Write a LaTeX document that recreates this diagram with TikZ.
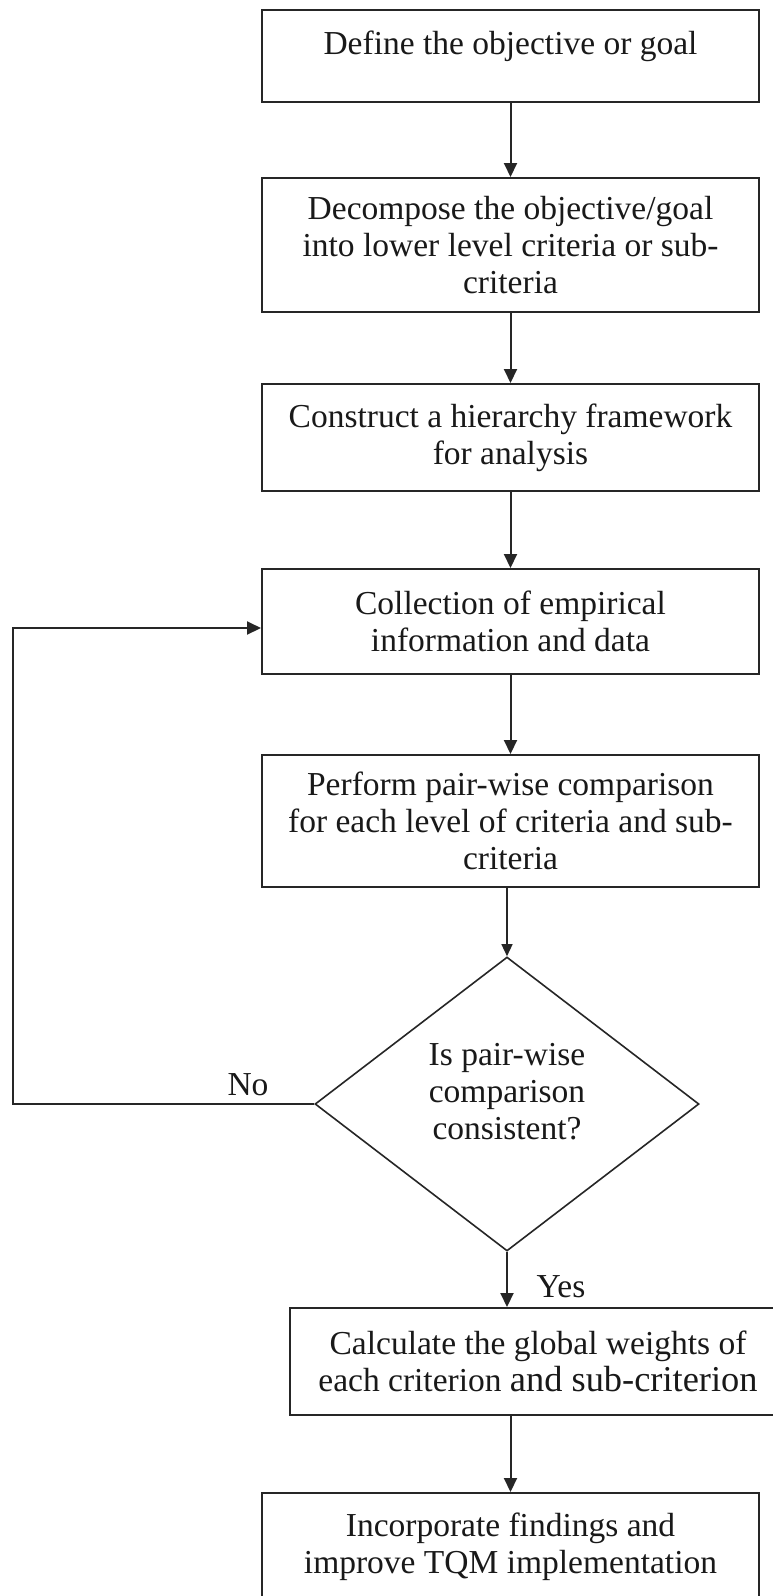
\documentclass[tikz,border=0pt]{standalone}
\usepackage{fontspec}
\setmainfont{Liberation Serif}
\usetikzlibrary{shapes.geometric,arrows.meta}

\begin{document}
\begin{tikzpicture}[x=1pt,y=-1pt,
  txt/.style={font=\fontsize{33.5}{37}\selectfont, text=black!90},
  procbox/.style={txt, draw=black!85, line width=2pt, rectangle, align=center,
    minimum width=497pt, inner sep=0pt},
  decision/.style={txt, draw=black!85, line width=1.6pt, diamond, align=center,
    minimum width=384pt, minimum height=294pt, inner sep=0pt},
  arr/.style={draw=black!85, line width=2pt, -{Triangle[length=14pt,width=13pt]}},
  thinarr/.style={draw=black!85, line width=1.3pt, -{Triangle[length=12pt,width=11pt]}},
  lbl/.style={txt, inner sep=0pt}
]
  % page frame
  \fill[white] (0,0) rectangle (773,1596);
  \useasboundingbox (0,0) rectangle (773,1596);

  % process steps
  \node[procbox, minimum height=92pt, text height=23pt, text depth=27pt]
    (b1) at (510.5,56) {Define the objective or goal};
  \node[procbox, minimum height=134pt] (b2) at (510.5,245)
    {Decompose the objective/goal\\into lower level criteria or sub-\\criteria};
  \node[procbox, minimum height=107pt] (b3) at (510.5,437.5)
    {Construct a hierarchy framework\\for analysis};
  \node[procbox, minimum height=105pt] (b4) at (510.5,621.5)
    {Collection of empirical\\information and data};
  \node[procbox, minimum height=132pt] (b5) at (510.5,821)
    {Perform pair-wise comparison\\for each level of criteria and sub-\\criteria};

  % consistency check (text block sits a little above the centre)
  \node[decision] (d) at (507,1104)
    {Is pair-wise\\comparison\\consistent?\\[-12pt]\mbox{}};

  \node[procbox, minimum width=496pt, minimum height=107pt] (b6) at (538,1361.5)
    {Calculate the global weights of\\each criterion {\fontsize{36.4}{37}\selectfont and sub-criterion}};
  \node[procbox, minimum height=107pt] (b7) at (510.5,1546.5)
    {Incorporate findings and\\improve TQM implementation};

  % branch labels
  \node[lbl] (no) at (248,1085) {No};
  \node[lbl] (yes) at (561,1287) {Yes};

  % flow
  \draw[arr] (b1.south) -- (b2.north);
  \draw[arr] (b2.south) -- (b3.north);
  \draw[arr] (b3.south) -- (b4.north);
  \draw[arr] (b4.south) -- (b5.north);
  \draw[thinarr] (d.north |- b5.south) -- (d.north);
  \draw[arr] (d.south) -- (d.south |- b6.north);
  \draw[arr] (b7.north |- b6.south) -- (b7.north);

  % loop back when the comparison is inconsistent
  \coordinate (lp) at (13,628);
  \draw[arr] (d.west) -| (lp) -- (lp -| b4.west);
\end{tikzpicture}
\end{document}
